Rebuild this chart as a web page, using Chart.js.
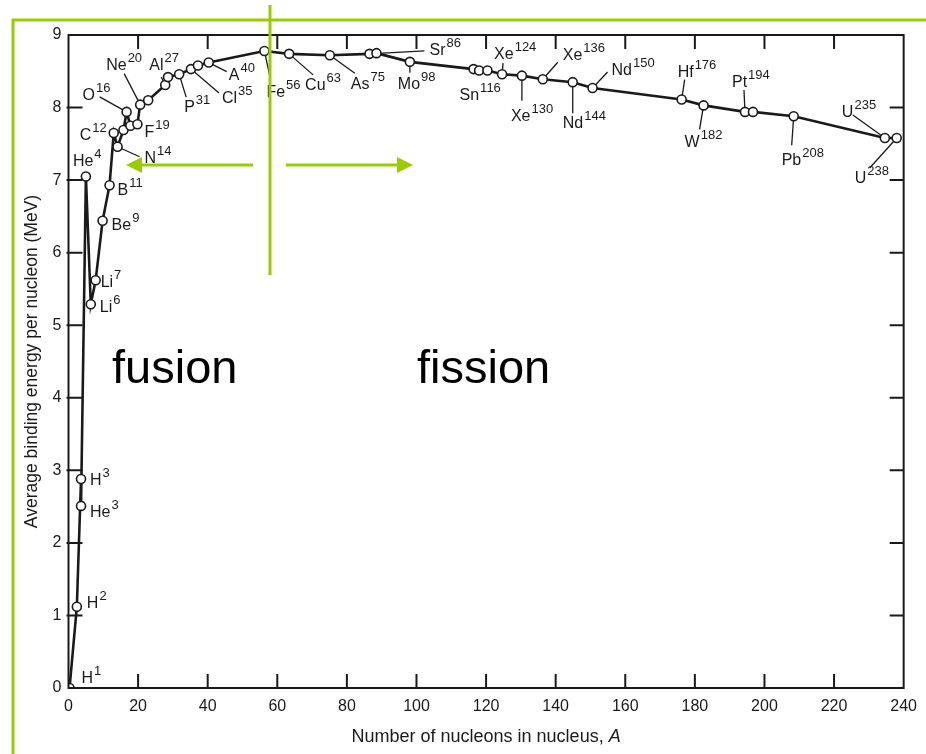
<!DOCTYPE html>
<html>
<head>
<meta charset="utf-8">
<script src="https://cdn.jsdelivr.net/npm/chart.js@4.4.1/dist/chart.umd.min.js"></script>
<style>
  html, body { margin: 0; padding: 0; background: #fff; }
  #wrap { width: 926px; height: 754px; position: relative; }
</style>
</head>
<body>
<div id="wrap"><canvas id="bindingChart" width="926" height="754"></canvas></div>
<script>
// mass number A and average binding energy per nucleon (MeV)
const nucleonNumbers = [0.3, 2.4, 3.6, 3.6, 5.0, 6.4, 7.8, 9.8, 11.8, 13.0, 14.1, 15.8, 16.7, 17.8, 19.8,
    20.6, 22.9, 27.8, 28.6, 31.8, 35.2, 37.2, 40.3, 56.3, 63.4, 75.1, 86.5, 88.5, 98.1, 116.4,
    118.0, 120.4, 124.6, 130.3, 136.3, 144.9, 150.6, 176.2, 182.5, 194.4, 196.7, 208.4, 234.6, 238.0];
const bindingEnergy = [0, 1.12, 2.88, 2.51, 7.05, 5.29, 5.62, 6.44, 6.93, 7.65, 7.46, 7.69, 7.94, 7.75, 7.77,
    8.04, 8.10, 8.31, 8.42, 8.46, 8.53, 8.58, 8.62, 8.78, 8.74, 8.72, 8.74, 8.75, 8.63, 8.53,
    8.51, 8.51, 8.46, 8.44, 8.39, 8.35, 8.27, 8.11, 8.03, 7.94, 7.94, 7.88, 7.58, 7.58];
const nuclideLabels = ['H1', 'H2', 'H3', 'He3', 'He4', 'Li6', 'Li7', 'Be9', 'B11', 'C12', 'N14', '', 'O16', '', 'F19',
    'Ne20', '', 'Al27', '', 'P31', 'Cl35', '', 'A40', 'Fe56', 'Cu63', 'As75', 'Sr86', '', 'Mo98', 'Sn116',
    '', '', 'Xe124', 'Xe130', 'Xe136', 'Nd144', 'Nd150', 'Hf176', 'W182', 'Pt194', '', 'Pb208', 'U235', 'U238'];

const xTicks = [0, 20, 40, 60, 80, 100, 120, 140, 160, 180, 200, 220, 240];
const yTicks = [0, 1, 2, 3, 4, 5, 6, 7, 8, 9];

// label placement: [text dx, text dy, leader end dx, leader end dy] relative to the point
const labelLayout = {
    H1: [12, -5], H2: [10, 1], H3: [9, 6], He3: [9, 11], He4: [-13, -10],
    Li6: [9, 8], Li7: [5, 7], Be9: [9, 9], B11: [8, 10], C12: [-34, 7],
    N14: [27, 16, 22, 10], O16: [-44, -12, -27, -15], F19: [7, 13],
    Ne20: [-34, -35, -16, -31], Al27: [-16, -15, -4, -8], P31: [5, 38, 7, 23],
    Cl35: [31, 34, 28, 24], A40: [20, 17, 18, 9], Fe56: [2, 46, 6, 28],
    Cu63: [16, 36, 24, 21], As75: [21, 34, 25, 18], Sr86: [60, 1, 55, -3],
    Mo98: [-12, 27, 0, 11], Sn116: [-14, 31], Xe124: [-8, -15, 1, -11],
    Xe130: [-11, 45, 0, 25], Xe136: [20, -19, 15, -17], Nd144: [-10, 46, 0, 31],
    Nd150: [19, -13, 15, -16], Hf176: [-4, -23, 3, -20], W182: [-19, 42, -4, 24],
    Pt194: [-13, -25, -1, -22], Pb208: [-12, 49, -2, 29], U235: [-43, -21, -32, -23],
    U238: [-42, 45, -27, 30]
};

const FONT = "'Liberation Sans', Arial, Helvetica, sans-serif";
const INK = '#1a1a1a';
const GREEN = 'rgb(155, 204, 0)';

const points = nucleonNumbers.map((a, i) => ({ x: a, y: bindingEnergy[i] }));

// frame with inward tick marks on all four sides, plus x title with italic A
const framePlugin = {
    id: 'frame',
    afterDatasetsDraw(chart) {
        const ctx = chart.ctx;
        const area = chart.chartArea;
        const xs = chart.scales.x;
        const ys = chart.scales.y;
        const len = 14;
        ctx.save();
        ctx.strokeStyle = INK;
        ctx.lineWidth = 2;
        ctx.strokeRect(area.left, area.top, area.right - area.left, area.bottom - area.top);
        ctx.beginPath();
        xTicks.slice(1, -1).forEach(v => {
            const px = xs.getPixelForValue(v);
            ctx.moveTo(px, area.bottom);
            ctx.lineTo(px, area.bottom - len);
            ctx.moveTo(px, area.top);
            ctx.lineTo(px, area.top + len);
        });
        yTicks.slice(1, -1).forEach(v => {
            const py = ys.getPixelForValue(v);
            ctx.moveTo(area.left - 2, py);
            ctx.lineTo(area.left + len, py);
            ctx.moveTo(area.right, py);
            ctx.lineTo(area.right - len, py);
        });
        ctx.stroke();

        // x axis title
        const plain = 'Number of nucleons in nucleus, ';
        ctx.fillStyle = INK;
        ctx.textBaseline = 'alphabetic';
        ctx.font = '18px ' + FONT;
        const w1 = ctx.measureText(plain).width;
        ctx.font = 'italic 18px ' + FONT;
        const w2 = ctx.measureText('A').width;
        const x0 = (area.left + area.right) / 2 - (w1 + w2) / 2;
        ctx.font = '18px ' + FONT;
        ctx.fillText(plain, x0, 742);
        ctx.font = 'italic 18px ' + FONT;
        ctx.fillText('A', x0 + w1, 742);
        ctx.restore();
    }
};

// nuclide names with superscript mass numbers and leader lines
const labelPlugin = {
    id: 'nuclides',
    beforeDatasetsDraw(chart) {
        const ctx = chart.ctx;
        const meta = chart.getDatasetMeta(0);
        ctx.save();
        ctx.strokeStyle = INK;
        ctx.fillStyle = INK;
        ctx.lineWidth = 1.3;
        ctx.textBaseline = 'alphabetic';
        nuclideLabels.forEach((lab, i) => {
            if (!lab) return;
            const lay = labelLayout[lab];
            const pt = meta.data[i];
            const px = pt.x, py = pt.y;
            if (lay.length > 2) {
                ctx.beginPath();
                ctx.moveTo(px, py);
                ctx.lineTo(px + lay[2], py + lay[3]);
                ctx.stroke();
            }
            const sym = lab.replace(/[0-9]/g, '');
            const mass = lab.replace(/[^0-9]/g, '');
            const tx = px + lay[0], ty = py + lay[1];
            ctx.font = '16px ' + FONT;
            ctx.fillText(sym, tx, ty);
            const w = ctx.measureText(sym).width;
            ctx.font = '13px ' + FONT;
            ctx.fillText(mass, tx + w + 1, ty - 8);
        });
        ctx.restore();
    }
};

// green slide overlay: frame, divider, arrows and captions
const overlayPlugin = {
    id: 'overlay',
    afterDraw(chart) {
        const ctx = chart.ctx;
        ctx.save();
        ctx.strokeStyle = GREEN;
        ctx.fillStyle = GREEN;
        ctx.lineWidth = 3;
        ctx.beginPath();
        ctx.moveTo(13, 754);
        ctx.lineTo(13, 20);
        ctx.lineTo(926, 20);
        ctx.moveTo(270, 5);
        ctx.lineTo(270, 275);
        ctx.moveTo(253, 165);
        ctx.lineTo(138, 165);
        ctx.moveTo(286, 165);
        ctx.lineTo(400, 165);
        ctx.stroke();
        ctx.beginPath();
        ctx.moveTo(126, 165);
        ctx.lineTo(142, 157);
        ctx.lineTo(142, 173);
        ctx.closePath();
        ctx.fill();
        ctx.beginPath();
        ctx.moveTo(413, 165);
        ctx.lineTo(397, 157);
        ctx.lineTo(397, 173);
        ctx.closePath();
        ctx.fill();

        ctx.fillStyle = '#000';
        ctx.font = '47px ' + FONT;
        ctx.textBaseline = 'alphabetic';
        ctx.fillText('fusion', 112, 383);
        ctx.fillText('fission', 417, 383);
        ctx.restore();
    }
};

const ctx = document.getElementById('bindingChart').getContext('2d');
const bindingChart = new Chart(ctx, {
    type: 'line',
    data: {
        datasets: [{
            data: points,
            borderColor: INK,
            borderWidth: 2.6,
            pointRadius: 4.5,
            pointBackgroundColor: '#fff',
            pointBorderColor: INK,
            pointBorderWidth: 1.6,
            tension: 0,
            fill: false
        }]
    },
    options: {
        responsive: false,
        animation: false,
        events: [],
        layout: { padding: { left: 0, right: 17, top: 35, bottom: 0 } },
        plugins: {
            legend: { display: false },
            tooltip: { enabled: false }
        },
        scales: {
            x: {
                type: 'linear',
                min: 0,
                max: 240,
                afterBuildTicks: s => { s.ticks = xTicks.map(v => ({ value: v })); },
                afterFit: s => { s.height = 66; },
                grid: { display: false, drawTicks: false },
                border: { display: false },
                ticks: { color: INK, padding: 9, maxRotation: 0, font: { family: FONT, size: 16 } },
                title: { display: false }
            },
            y: {
                min: 0,
                max: 9,
                afterBuildTicks: s => { s.ticks = yTicks.map(v => ({ value: v })); },
                afterFit: s => { s.width = 68.5; },
                grid: { display: false, drawTicks: false },
                border: { display: false },
                ticks: { color: INK, padding: 7, font: { family: FONT, size: 16 } },
                title: {
                    display: true,
                    text: 'Average binding energy per nucleon (MeV)',
                    color: INK,
                    padding: { top: 22, bottom: 0 },
                    font: { family: FONT, size: 17.5 }
                }
            }
        }
    },
    plugins: [labelPlugin, framePlugin, overlayPlugin]
});
</script>
</body>
</html>
